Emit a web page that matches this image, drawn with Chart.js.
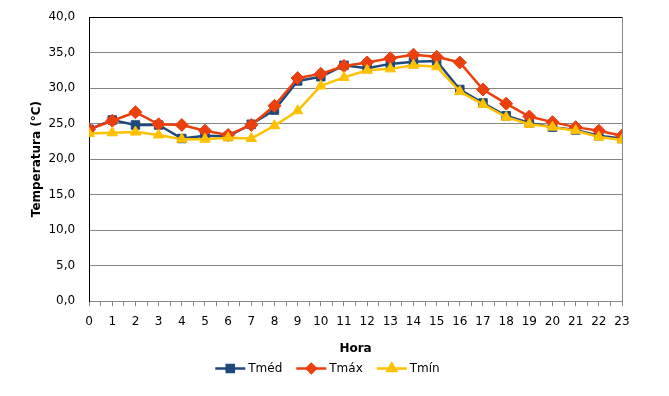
<!DOCTYPE html>
<html>
<head>
<meta charset="utf-8">
<script src="https://cdn.jsdelivr.net/npm/chart.js@4/dist/chart.umd.min.js"></script>
<style>
  html, body { margin: 0; padding: 0; background: #fff; }
  #wrap { width: 669px; height: 396px; position: relative; }
</style>
</head>
<body>
<div id="wrap"><canvas id="temp-chart"></canvas></div>
<script>
const hours = [0, 1, 2, 3, 4, 5, 6, 7, 8, 9, 10, 11, 12, 13, 14, 15, 16, 17, 18, 19, 20, 21, 22, 23]
const tMed = [24.2, 25.5, 24.8, 24.8, 22.9, 23.3, 23.2, 24.9, 26.9, 31.0, 31.6, 33.2, 32.8, 33.4, 33.7, 33.8, 29.8, 27.9, 26.1, 25.1, 24.5, 24.1, 23.3, 22.9]
const tMax = [24.2, 25.4, 26.6, 24.9, 24.8, 24.0, 23.4, 24.8, 27.5, 31.4, 32.0, 33.1, 33.6, 34.2, 34.7, 34.4, 33.6, 29.8, 27.8, 26.0, 25.2, 24.5, 24.0, 23.3]
const tMin = [23.6, 23.7, 23.8, 23.4, 22.8, 22.8, 23.0, 22.9, 24.7, 26.8, 30.3, 31.5, 32.5, 32.7, 33.2, 33.0, 29.5, 27.7, 25.9, 24.9, 24.5, 24.0, 23.1, 22.7]
const yTicks = [0, 5, 10, 15, 20, 25, 30, 35, 40]

const FONT = 'DejaVu Sans, Verdana, sans-serif'
const GRID = '#868686'

Chart.defaults.font.family = FONT
Chart.defaults.font.size = 12
Chart.defaults.color = '#000'

const toPoints = (vals) => vals.map((v, i) => ({ x: hours[i], y: v }))

const series = [
  { label: 'Tméd', data: tMed, color: '#1F497D', style: 'rect', radius: 6, legendRadius: 5, order: 3 },
  { label: 'Tmáx', data: tMax, color: '#EB3F0E', style: 'rectRot', radius: 6.5, legendRadius: 4.5, order: 2 },
  { label: 'Tmín', data: tMin, color: '#FFC000', style: 'triangle', radius: 6, legendRadius: 5, order: 1 }
]

// legend drawn Excel-like: short line with the marker in its middle
const lineLegend = {
  id: 'lineLegend',
  afterDraw (chart) {
    const ctx = chart.ctx
    const y = chart.scales.x.bottom + 12.5
    ctx.save()
    ctx.font = '12px ' + FONT
    ctx.textBaseline = 'middle'
    const lineW = 30
    const gap = 14
    const widths = series.map(s => lineW + 3 + ctx.measureText(s.label).width)
    const total = widths.reduce((a, b) => a + b, 0) + gap * (series.length - 1)
    let x = chart.width / 2 - 7 - total / 2
    series.forEach((s, i) => {
      ctx.strokeStyle = s.color
      ctx.lineWidth = 2.5
      ctx.beginPath()
      ctx.moveTo(x, y)
      ctx.lineTo(x + lineW, y)
      ctx.stroke()
      ctx.fillStyle = s.color
      Chart.helpers.drawPoint(ctx, { pointStyle: s.style, radius: s.legendRadius, borderWidth: 1 }, x + lineW / 2, y)
      ctx.fillStyle = '#000'
      ctx.textAlign = 'left'
      ctx.fillText(s.label, x + lineW + 3, y)
      x += widths[i] + gap
    })
    ctx.restore()
  }
}

// right side frame of the plot area
const frame = {
  id: 'frame',
  beforeDatasetsDraw (chart) {
    const { ctx, chartArea } = chart
    ctx.save()
    ctx.strokeStyle = GRID
    ctx.lineWidth = 1
    ctx.beginPath()
    ctx.moveTo(chartArea.right + 0.5, chartArea.top)
    ctx.lineTo(chartArea.right + 0.5, chartArea.bottom)
    ctx.stroke()
    ctx.restore()
  }
}

const chart = new Chart(document.getElementById('temp-chart'), {
  type: 'line',
  data: {
    datasets: series.map(s => ({
      label: s.label,
      data: toPoints(s.data),
      borderColor: s.color,
      backgroundColor: s.color,
      borderWidth: 2.5,
      pointStyle: s.style,
      pointRadius: s.radius,
      pointHoverRadius: s.radius,
      pointBorderWidth: 1,
      pointBackgroundColor: s.color,
      pointBorderColor: s.color,
      tension: 0,
      order: s.order
    }))
  },
  options: {
    responsive: true,
    maintainAspectRatio: false,
    animation: false,
    layout: { padding: { left: 28, right: 47, top: 17, bottom: 40 } },
    plugins: {
      legend: { display: false },
      tooltip: { enabled: false }
    },
    scales: {
      x: {
        type: 'linear',
        min: hours[0],
        max: hours[hours.length - 1],
        afterBuildTicks (axis) {
          const t = []
          for (let v = axis.min; v <= axis.max + 0.001; v += 0.5) t.push({ value: v })
          axis.ticks = t
        },
        ticks: {
          autoSkip: false,
          maxRotation: 0,
          padding: 8.5,
          callback: (v) => Number.isInteger(v) ? String(v) : ''
        },
        grid: { drawOnChartArea: false, tickLength: 5, color: GRID },
        border: { color: GRID },
        title: { display: true, text: 'Hora', font: { weight: 'bold', size: 12 }, padding: { top: 4, bottom: 0 } }
      },
      y: {
        min: 0,
        max: 40,
        afterBuildTicks (axis) {
          axis.ticks = yTicks.map(v => ({ value: v }))
        },
        afterFit (axis) {
          // don't let the tick padding push the plot area down
          axis.paddingTop = 0
          axis.paddingBottom = 0
        },
        ticks: {
          padding: 14,
          callback: (v) => v.toFixed(1).replace('.', ',')
        },
        grid: {
          drawTicks: false,
          color: (c) => c.tick && c.tick.value === 40 ? '#000' : GRID
        },
        border: { color: '#000' },
        title: { display: true, text: 'Temperatura (°C)', font: { weight: 'bold', size: 12 }, padding: { top: 2, bottom: -10 } }
      }
    }
  },
  plugins: [frame, lineLegend]
})
</script>
</body>
</html>
